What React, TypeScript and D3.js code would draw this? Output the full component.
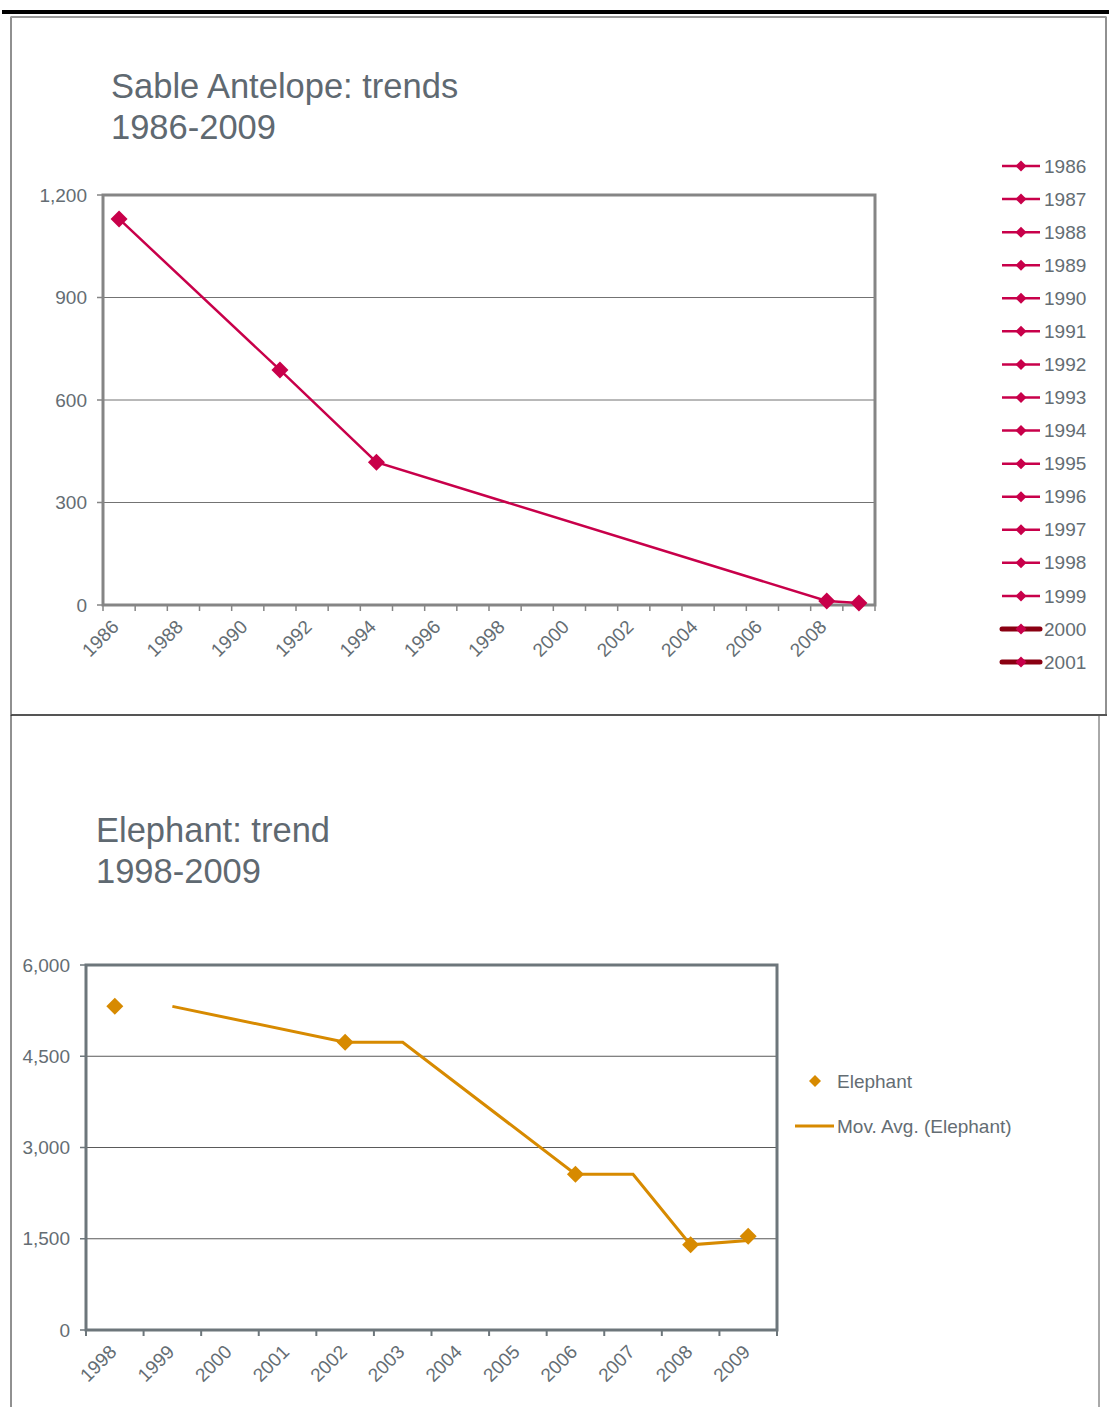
import React from "react";
import * as d3 from "d3";

// Sable antelope counts (survey years)
const sableYears = [1986, 1991, 1994, 2008, 2009];
const sableCounts = [1130, 688, 418, 12, 6];
const sableTicks = [0, 300, 600, 900, 1200];
const sableLegendYears = [
  1986, 1987, 1988, 1989, 1990, 1991, 1992, 1993, 1994, 1995, 1996, 1997, 1998,
  1999, 2000, 2001,
];

// Elephant counts (null = no survey)
const elephantYears = [
  1998, 1999, 2000, 2001, 2002, 2003, 2004, 2005, 2006, 2007, 2008, 2009,
];
const elephantCounts: (number | null)[] = [
  5320, null, null, null, 4730, null, null, null, 2560, null, 1400, 1540,
];
const elephantTicks = [0, 1500, 3000, 4500, 6000];

const FONT = "'Liberation Sans', Arial, sans-serif";
const TEXT = "#646d73";
const CRIMSON = "#c8004a";
const DARKRED = "#8a0012";
const ORANGE = "#d78a00";

const diamond = (cx: number, cy: number, r: number) =>
  `M${cx},${cy - r}L${cx + r},${cy}L${cx},${cy + r}L${cx - r},${cy}Z`;

function SableChart() {
  const x = d3.scaleLinear().domain([1986, 2010]).range([103, 875]);
  const y = d3.scaleLinear().domain([0, 1200]).range([605, 195]);
  const pts = sableYears.map((yr, i) => [x(yr + 0.5), y(sableCounts[i])] as [number, number]);
  const line = d3.line()(pts) || "";
  const yearTicks = d3.range(1986, 2011);
  const labelYears = d3.range(1986, 2010, 2);
  const fmt = d3.format(",");
  return (
    <g>
      <text x={111} y={98} fontSize={34.5} fill="#5f6971" fontFamily={FONT}>
        Sable Antelope: trends
      </text>
      <text x={111} y={139} fontSize={34.5} fill="#5f6971" fontFamily={FONT}>
        1986-2009
      </text>
      {sableTicks.slice(1, -1).map((t) => (
        <line key={t} x1={103} x2={875} y1={y(t)} y2={y(t)} stroke="#737373" strokeWidth={1} />
      ))}
      <rect x={103} y={195} width={772} height={410} fill="none" stroke="#858585" strokeWidth={3} />
      {sableTicks.map((t) => (
        <g key={t}>
          <line x1={97} x2={103} y1={y(t)} y2={y(t)} stroke="#858585" strokeWidth={1.5} />
          <text x={87} y={y(t)} dy="0.35em" textAnchor="end" fontSize={19} fill={TEXT} fontFamily={FONT}>
            {fmt(t)}
          </text>
        </g>
      ))}
      {yearTicks.map((t) => (
        <line key={t} x1={x(t)} x2={x(t)} y1={605} y2={611} stroke="#858585" strokeWidth={1.5} />
      ))}
      {labelYears.map((t) => (
        <text
          key={t}
          transform={`translate(${x(t) + 17},${628}) rotate(-45)`}
          textAnchor="end"
          fontSize={19}
          fill={TEXT}
          fontFamily={FONT}
        >
          {t}
        </text>
      ))}
      <path d={line} fill="none" stroke={CRIMSON} strokeWidth={2.5} />
      {pts.map(([px, py], i) => (
        <path key={i} d={diamond(px, py, 8.5)} fill={CRIMSON} />
      ))}
      {sableLegendYears.map((yr, i) => {
        const ly = 166 + i * 33.07;
        const heavy = yr >= 2000;
        return (
          <g key={yr}>
            <line
              x1={1002}
              x2={1040}
              y1={ly}
              y2={ly}
              stroke={heavy ? DARKRED : CRIMSON}
              strokeWidth={heavy ? 5 : 2.5}
              strokeLinecap={heavy ? "round" : "butt"}
            />
            <path d={diamond(1021, ly, 5.5)} fill={CRIMSON} />
            <text x={1044} y={ly} dy="0.35em" fontSize={19} fill={TEXT} fontFamily={FONT}>
              {yr}
            </text>
          </g>
        );
      })}
    </g>
  );
}

function ElephantChart() {
  const x = d3.scaleBand<number>().domain(elephantYears).range([86, 777]);
  const y = d3.scaleLinear().domain([0, 6000]).range([1330, 965]);
  const cx = (yr: number) => (x(yr) || 0) + x.bandwidth() / 2;
  const fmt = d3.format(",");

  // Two-period moving average trendline, skipping empty years
  const ma: [number, number][] = [];
  for (let i = 1; i < elephantYears.length; i++) {
    const vals = [elephantCounts[i - 1], elephantCounts[i]].filter((v): v is number => v != null);
    if (vals.length) ma.push([cx(elephantYears[i]), y(d3.mean(vals) as number)]);
  }
  const maPath = d3.line()(ma) || "";
  const boundaries = d3.range(0, elephantYears.length + 1).map((i) => 86 + i * x.bandwidth());

  return (
    <g>
      <text x={96} y={842} fontSize={34.5} fill="#5f6971" fontFamily={FONT}>
        Elephant: trend
      </text>
      <text x={96} y={883} fontSize={34.5} fill="#5f6971" fontFamily={FONT}>
        1998-2009
      </text>
      {elephantTicks.slice(1, -1).map((t) => (
        <line key={t} x1={86} x2={777} y1={y(t)} y2={y(t)} stroke="#5a5a5a" strokeWidth={1} />
      ))}
      <rect x={86} y={965} width={691} height={365} fill="none" stroke="#6d767b" strokeWidth={3} />
      {elephantTicks.map((t) => (
        <g key={t}>
          <line x1={80} x2={86} y1={y(t)} y2={y(t)} stroke="#6d767b" strokeWidth={1.5} />
          <text x={70} y={y(t)} dy="0.35em" textAnchor="end" fontSize={19} fill={TEXT} fontFamily={FONT}>
            {fmt(t)}
          </text>
        </g>
      ))}
      {boundaries.map((b, i) => (
        <line key={i} x1={b} x2={b} y1={1330} y2={1336} stroke="#6d767b" strokeWidth={2} />
      ))}
      {elephantYears.map((yr) => (
        <text
          key={yr}
          transform={`translate(${cx(yr) + 3},${1353}) rotate(-45)`}
          textAnchor="end"
          fontSize={19}
          fill={TEXT}
          fontFamily={FONT}
        >
          {yr}
        </text>
      ))}
      <path d={maPath} fill="none" stroke={ORANGE} strokeWidth={3} />
      {elephantYears.map((yr, i) =>
        elephantCounts[i] == null ? null : (
          <path key={yr} d={diamond(cx(yr), y(elephantCounts[i] as number), 8.5)} fill={ORANGE} />
        )
      )}
      <path d={diamond(815, 1081, 6)} fill={ORANGE} />
      <text x={837} y={1081} dy="0.35em" fontSize={19} fill={TEXT} fontFamily={FONT}>
        Elephant
      </text>
      <line x1={795} x2={834} y1={1126} y2={1126} stroke={ORANGE} strokeWidth={3} />
      <text x={837} y={1126} dy="0.35em" fontSize={19} fill={TEXT} fontFamily={FONT}>
        Mov. Avg. (Elephant)
      </text>
    </g>
  );
}

export default function App() {
  return (
    <svg
      width={1109}
      height={1407}
      style={{ position: "absolute", left: 0, top: 0, background: "#fff" }}
    >
      <rect x={0} y={0} width={1109} height={1407} fill="#fff" />
      {/* page rule and chart frames */}
      <rect x={2} y={10} width={1107} height={4} fill="#000" />
      <rect x={11} y={17} width={1095} height={698} fill="none" stroke="#222" strokeWidth={1} />
      <line x1={11} x2={1106} y1={17} y2={17} stroke="#999" strokeWidth={2} />
      <line x1={11} x2={1107} y1={715} y2={715} stroke="#555" strokeWidth={2} />
      <line x1={11} x2={11} y1={715} y2={1407} stroke="#222" strokeWidth={1} />
      <line x1={1099} x2={1099} y1={716} y2={1407} stroke="#555" strokeWidth={1} />
      <SableChart />
      <ElephantChart />
    </svg>
  );
}
